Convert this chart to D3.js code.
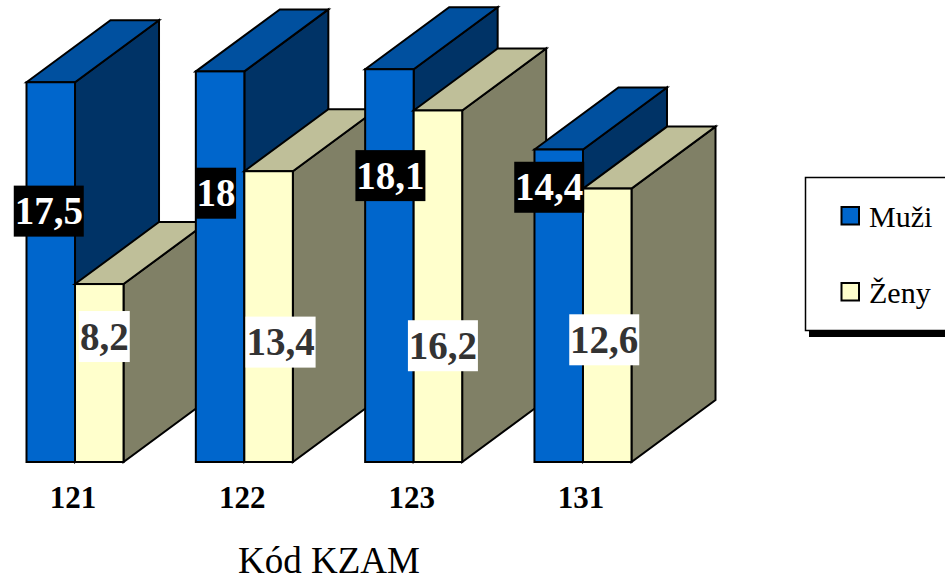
<!DOCTYPE html>
<html lang="cs">
<head>
<meta charset="utf-8">
<script src="https://cdn.jsdelivr.net/npm/d3@7/dist/d3.min.js"></script>
<style>
  html, body { margin: 0; padding: 0; background: #fff; overflow: hidden; }
  svg { display: block; font-family: "Liberation Serif", "Times New Roman", serif; }
</style>
</head>
<body>
<svg id="chart" width="945" height="577"></svg>
<script>
// Data
const categories = ["121", "122", "123", "131"];
const seriesNames = ["Muži", "Ženy"];
const muzi = [17.5, 18, 18.1, 14.4];
const zeny = [8.2, 13.4, 16.2, 12.6];
const axisTitle = "Kód KZAM";

// Face colours per series: front, top, side
const faces = {
  "Muži": { front: "#0066cc", top: "#00509f", side: "#003366" },
  "Ženy": { front: "#ffffcc", top: "#bfbf99", side: "#808066" }
};

// Data label offsets from each bar's front-face centre, as hand-placed on the chart
const labelOffsets = {
  "Muži": [[-2, -61], [-4, -73.5], [1, -90], [-9.5, -118.5]],
  "Ženy": [[5, -36.5], [12, 25.5], [5, 59.5], [-3, 14.5]]
};

// 3D extrusion of every column
const depthX = 84, depthY = 62;

const svg = d3.select("#chart");

const x0 = d3.scaleBand().domain(categories).range([26.5, 631.5]).paddingInner(0.427);
const x1 = d3.scaleBand().domain(seriesNames).range([0, x0.bandwidth()]);
const y = d3.scaleLinear().domain([0, 20]).range([462, 28]);

const values = { "Muži": muzi, "Ženy": zeny };
const poly = pts => pts.map(p => p.join(",")).join(" ");

// Columns: groups left to right, each one overlapping the previous
const plot = svg.append("g").attr("stroke", "#000").attr("stroke-width", 2).attr("stroke-linejoin", "miter");
categories.forEach((cat, i) => {
  const g = plot.append("g");
  seriesNames.forEach(name => {
    const left = x0(cat) + x1(name);
    const right = left + x1.bandwidth();
    const top = y(values[name][i]);
    const base = y(0);
    const c = faces[name];
    g.append("polygon").attr("fill", c.side)
      .attr("points", poly([[right, top], [right + depthX, top - depthY], [right + depthX, base - depthY], [right, base]]));
    g.append("polygon").attr("fill", c.top)
      .attr("points", poly([[left, top], [left + depthX, top - depthY], [right + depthX, top - depthY], [right, top]]));
    g.append("rect").attr("fill", c.front)
      .attr("x", left).attr("y", top).attr("width", right - left).attr("height", base - top);
  });
});

// Value labels on filled boxes
const labels = svg.append("g").attr("font-weight", "bold").attr("font-size", 39).attr("text-anchor", "middle");
const fmt = v => String(v).replace(".", ",");
seriesNames.forEach(name => {
  const isMen = name === "Muži";
  categories.forEach((cat, i) => {
    const v = values[name][i];
    const [ox, oy] = labelOffsets[name][i];
    const cx = x0(cat) + x1(name) + x1.bandwidth() / 2 + ox;
    const cy = (y(v) + y(0)) / 2 + oy;
    const t = fmt(v);
    const w = t.length === 2 ? 40 : t.length === 3 ? 51 : 70;
    labels.append("rect")
      .attr("x", cx - w / 2).attr("y", cy - 25.5).attr("width", w).attr("height", 51)
      .attr("fill", isMen ? "#000" : "#fff");
    labels.append("text")
      .attr("x", cx).attr("y", cy + 13)
      .attr("fill", isMen ? "#fff" : "#333")
      .text(t);
  });
});

// Category axis with bold codes and no line or ticks
const axis = svg.append("g")
  .attr("transform", "translate(-2,462)")
  .call(d3.axisBottom(x0).tickSize(0).tickPadding(24));
axis.select(".domain").remove();
axis.selectAll("text")
  .attr("font-family", "\"Liberation Serif\", serif")
  .attr("font-size", 31).attr("font-weight", "bold").attr("fill", "#000");

svg.append("text")
  .attr("x", 329).attr("y", 573)
  .attr("text-anchor", "middle").attr("font-size", 37).attr("fill", "#000")
  .text(axisTitle);

// Legend box with its drop shadow, running off the right edge
const legend = svg.append("g");
legend.append("rect").attr("x", 809).attr("y", 181).attr("width", 150).attr("height", 156).attr("fill", "#000");
legend.append("rect").attr("x", 805.5).attr("y", 177.5).attr("width", 150).attr("height", 153)
  .attr("fill", "#fff").attr("stroke", "#000").attr("stroke-width", 1.5);
seriesNames.forEach((name, i) => {
  const row = 216 + i * 76;
  legend.append("rect").attr("x", 841.5).attr("y", row - 9).attr("width", 17.5).attr("height", 17.5)
    .attr("fill", faces[name].front).attr("stroke", "#000").attr("stroke-width", 2);
  legend.append("text").attr("x", 869).attr("y", row + 11)
    .attr("font-size", 30).attr("fill", "#000").text(name);
});
</script>
</body>
</html>
